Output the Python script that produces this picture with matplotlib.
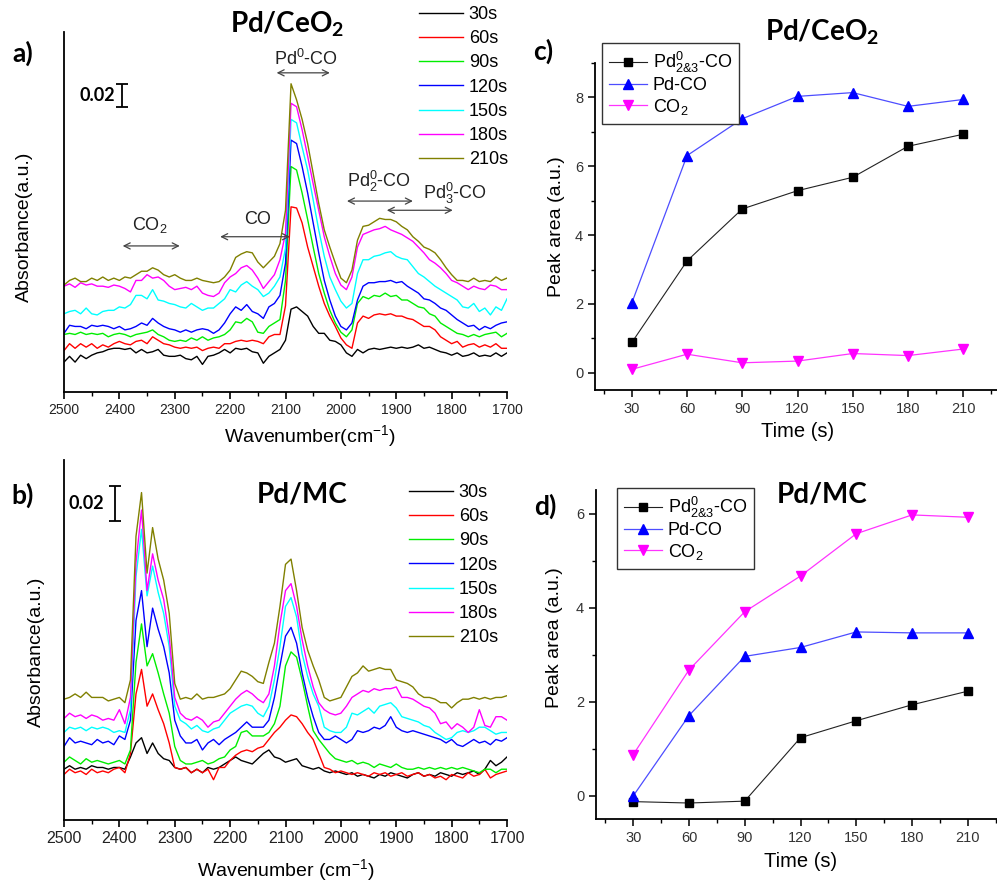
import numpy as np
import matplotlib
matplotlib.use("Agg")
from matplotlib import pyplot as plt
from matplotlib.ticker import MultipleLocator

plt.rcParams["font.family"] = ["Liberation Sans", "DejaVu Sans"]
plt.rcParams["mathtext.fontset"] = "custom"
plt.rcParams["mathtext.rm"] = "Liberation Sans"
plt.rcParams["mathtext.it"] = "Liberation Sans:italic"
plt.rcParams["mathtext.bf"] = "Lato:bold"

W, H = 997, 884

# DRIFTS spectra, 2500-1700 cm-1 in 10 cm-1 steps, absorbance in mAbs
wavenumber = np.arange(2500, 1699, -10)

ceo2_30s = [26, 31, 26, 32, 29, 32, 34, 35, 37, 38,
            38, 37, 38, 34, 37, 34, 35, 37, 32, 31,
            31, 32, 29, 28, 31, 24, 31, 32, 34, 37,
            34, 38, 37, 38, 35, 34, 25, 31, 34, 37,
            45, 72, 74, 70, 66, 57, 51, 51, 45, 44,
            41, 34, 31, 37, 34, 37, 38, 37, 38, 39,
            38, 39, 38, 39, 41, 38, 39, 37, 35, 34,
            32, 34, 31, 32, 34, 31, 32, 31, 34, 31,
            34]
ceo2_60s = [36, 42, 38, 42, 39, 42, 38, 41, 39, 42,
            44, 42, 41, 44, 45, 42, 48, 45, 42, 41,
            39, 38, 39, 38, 39, 36, 38, 39, 38, 42,
            42, 44, 45, 44, 45, 44, 42, 48, 50, 50,
            75, 161, 160, 147, 126, 109, 92, 77, 66, 57,
            47, 41, 38, 60, 66, 64, 67, 68, 67, 68,
            66, 66, 64, 63, 60, 57, 57, 54, 48, 45,
            42, 44, 39, 41, 42, 39, 41, 39, 42, 38,
            38]
ceo2_90s = [50, 51, 50, 52, 50, 51, 50, 51, 48, 50,
            51, 50, 48, 50, 51, 52, 54, 50, 48, 45,
            44, 45, 44, 47, 45, 48, 45, 47, 48, 50,
            54, 61, 60, 64, 61, 52, 51, 57, 60, 63,
            97, 196, 193, 173, 150, 126, 103, 86, 71, 60,
            52, 48, 54, 77, 83, 81, 84, 83, 86, 83,
            84, 80, 80, 77, 74, 73, 68, 66, 60, 57,
            54, 51, 50, 48, 50, 48, 50, 51, 52, 48,
            51]
ceo2_120s = [51, 58, 57, 57, 55, 58, 57, 58, 57, 55,
             57, 54, 55, 57, 60, 58, 64, 60, 57, 55,
             54, 52, 54, 52, 54, 55, 54, 51, 54, 60,
             68, 74, 71, 76, 70, 68, 64, 74, 77, 84,
             112, 219, 216, 196, 173, 147, 121, 97, 80, 66,
             57, 54, 60, 80, 92, 95, 95, 96, 96, 97,
             95, 96, 92, 89, 86, 81, 80, 77, 73, 71,
             67, 63, 60, 57, 58, 54, 57, 55, 58, 60,
             61]
ceo2_150s = [68, 70, 71, 68, 73, 68, 67, 70, 71, 71,
             74, 73, 76, 84, 84, 81, 89, 80, 79, 77,
             76, 74, 73, 77, 74, 71, 73, 73, 77, 81,
             89, 87, 93, 96, 92, 89, 83, 86, 92, 100,
             125, 237, 234, 213, 193, 167, 141, 118, 100, 89,
             79, 73, 77, 103, 115, 115, 118, 119, 121, 122,
             118, 116, 115, 109, 103, 100, 96, 92, 89, 86,
             83, 80, 74, 73, 77, 70, 73, 67, 74, 71,
             81]
ceo2_180s = [92, 94, 91, 95, 93, 94, 92, 92, 91, 93,
             92, 90, 87, 97, 97, 102, 99, 100, 97, 92,
             89, 90, 91, 89, 92, 86, 84, 83, 86, 95,
             100, 103, 108, 110, 106, 99, 90, 96, 102, 115,
             138, 251, 248, 228, 205, 181, 158, 135, 118, 103,
             93, 89, 100, 126, 137, 139, 141, 142, 144, 141,
             139, 137, 134, 131, 126, 121, 115, 112, 108, 103,
             97, 95, 92, 89, 92, 90, 89, 93, 92, 89,
             89]
ceo2_210s = [93, 97, 99, 96, 96, 99, 97, 100, 97, 99,
             97, 100, 99, 102, 105, 105, 108, 106, 102, 100,
             102, 99, 97, 97, 99, 97, 96, 95, 96, 100,
             106, 117, 120, 122, 121, 113, 108, 113, 118, 129,
             158, 268, 254, 237, 216, 190, 164, 141, 126, 112,
             99, 95, 106, 132, 144, 145, 148, 151, 150, 150,
             148, 144, 141, 135, 131, 126, 124, 121, 115, 108,
             102, 97, 97, 96, 99, 96, 97, 96, 100, 97,
             99]

mc_30s = [29, 31, 29, 30, 29, 31, 30, 30, 29, 30,
          30, 29, 36, 44, 47, 38, 44, 38, 35, 34,
          30, 29, 30, 27, 29, 27, 30, 29, 30, 32,
          34, 36, 34, 33, 32, 35, 38, 40, 36, 35,
          33, 34, 35, 31, 30, 29, 30, 28, 27, 28,
          27, 26, 27, 25, 26, 25, 24, 26, 25, 27,
          26, 25, 24, 26, 27, 25, 26, 25, 27, 26,
          25, 27, 26, 27, 28, 26, 29, 34, 31, 33,
          36]
mc_60s = [26, 29, 27, 28, 26, 29, 27, 28, 27, 29,
          30, 27, 38, 72, 86, 65, 72, 63, 55, 44,
          30, 29, 30, 27, 29, 27, 29, 23, 30, 30,
          34, 37, 39, 40, 39, 41, 42, 46, 50, 53,
          57, 60, 59, 55, 50, 46, 38, 30, 29, 27,
          28, 27, 26, 27, 26, 25, 27, 26, 27, 25,
          26, 27, 25, 26, 27, 25, 26, 24, 25, 23,
          26, 25, 24, 27, 25, 26, 29, 24, 26, 27,
          28]
mc_90s = [33, 36, 34, 32, 35, 33, 34, 33, 32, 33,
          34, 32, 40, 90, 112, 88, 95, 84, 72, 61,
          42, 34, 32, 32, 33, 34, 32, 33, 35, 36,
          40, 42, 50, 51, 48, 48, 48, 50, 55, 65,
          88, 96, 93, 80, 65, 51, 46, 42, 38, 35,
          34, 33, 34, 32, 33, 32, 30, 32, 31, 30,
          32, 30, 29, 29, 30, 29, 30, 29, 30, 29,
          30, 29, 30, 29, 28, 27, 29, 29, 27, 29,
          29]
mc_120s = [42, 47, 44, 45, 44, 43, 46, 44, 45, 43,
           48, 46, 57, 114, 131, 99, 121, 109, 99, 84,
           57, 48, 44, 44, 46, 40, 44, 46, 43, 46,
           48, 50, 53, 56, 53, 53, 53, 57, 70, 88,
           105, 110, 101, 84, 70, 59, 50, 46, 46, 48,
           46, 44, 46, 51, 50, 51, 53, 52, 54, 59,
           53, 51, 50, 51, 50, 49, 48, 47, 46, 44,
           46, 43, 42, 44, 46, 44, 45, 43, 46, 45,
           47]
mc_150s = [50, 53, 52, 53, 51, 53, 52, 53, 52, 50,
           51, 50, 63, 139, 166, 128, 145, 130, 118, 99,
           65, 57, 55, 52, 54, 51, 50, 52, 53, 57,
           61, 63, 65, 66, 65, 61, 59, 65, 80, 99,
           122, 127, 116, 95, 82, 72, 65, 53, 51, 50,
           50, 53, 61, 60, 62, 64, 61, 65, 66, 67,
           64, 59, 58, 57, 56, 54, 53, 50, 48, 46,
           47, 50, 51, 50, 51, 53, 53, 51, 49, 50,
           50]
mc_180s = [58, 61, 59, 60, 58, 60, 59, 57, 58, 57,
           63, 55, 70, 147, 177, 131, 152, 137, 126, 105,
           70, 61, 58, 57, 59, 57, 53, 56, 57, 61,
           65, 69, 72, 74, 72, 69, 67, 72, 88, 112,
           131, 135, 122, 103, 88, 76, 67, 63, 61, 60,
           61, 65, 70, 72, 74, 73, 75, 74, 75, 75,
           76, 70, 70, 69, 67, 65, 64, 61, 55, 56,
           52, 55, 53, 50, 53, 63, 54, 53, 59, 59,
           57]
mc_210s = [69, 70, 72, 70, 73, 70, 70, 70, 68, 69,
           70, 67, 80, 162, 187, 141, 167, 149, 137, 118,
           78, 69, 70, 69, 72, 69, 70, 70, 71, 72,
           75, 80, 85, 84, 82, 79, 78, 90, 101, 122,
           146, 149, 131, 110, 97, 88, 80, 70, 68, 69,
           70, 76, 82, 84, 88, 85, 86, 87, 86, 86,
           80, 79, 78, 76, 72, 70, 70, 69, 67, 67,
           64, 67, 69, 69, 70, 69, 70, 69, 70, 70,
           71]

spectra_labels = ["30s", "60s", "90s", "120s", "150s", "180s", "210s"]
spectra_colors = ["#000000", "#ff0000", "#00ee00", "#0000ff", "#00ffff", "#ff00ff", "#808000"]

# integrated peak areas vs. exposure time
times = [30, 60, 90, 120, 150, 180, 210]
ceo2_pd23_co = [0.88, 3.25, 4.76, 5.29, 5.68, 6.58, 6.93]
ceo2_pd_co = [2.03, 6.31, 7.38, 8.03, 8.14, 7.74, 7.94]
ceo2_co2 = [0.10, 0.54, 0.29, 0.34, 0.56, 0.50, 0.69]
mc_pd23_co = [-0.13, -0.16, -0.12, 1.23, 1.59, 1.93, 2.22]
mc_pd_co = [-0.01, 1.70, 2.96, 3.15, 3.48, 3.46, 3.46]
mc_co2 = [0.87, 2.67, 3.91, 4.67, 5.57, 5.97, 5.92]

SCALE_BAR = 0.02


def box(left, top, right, bottom):
    return [left / W, 1 - bottom / H, (right - left) / W, (bottom - top) / H]


def clean_spines(ax):
    ax.spines["top"].set_visible(False)
    ax.spines["right"].set_visible(False)
    for s in ("left", "bottom"):
        ax.spines[s].set_linewidth(1.3)


def spectra_panel(ax, curves, ytop, tick_size, legend_at, bar_x, bar_y, bar_label_at):
    for values, color, label in zip(curves, spectra_colors, spectra_labels):
        ax.plot(wavenumber, np.array(values) / 1000, color=color, lw=1.0, label=label)
    ax.set_xlim(2500, 1700)
    ax.set_ylim(0, ytop)
    ax.xaxis.set_major_locator(MultipleLocator(100))
    ax.xaxis.set_minor_locator(MultipleLocator(50))
    ax.set_yticks([])
    clean_spines(ax)
    ax.tick_params(axis="x", which="major", direction="out", length=5, width=1.2,
                   labelsize=tick_size, labelcolor="#222222", pad=3)
    ax.tick_params(axis="x", which="minor", direction="out", length=3, width=1.0)
    ax.legend(loc="upper left", bbox_to_anchor=(legend_at[0] / W, 1 - legend_at[1] / H),
              bbox_transform=ax.figure.transFigure, frameon=False, fontsize=13,
              handlelength=2.45, handletextpad=0.3, labelspacing=0.4,
              borderpad=0, borderaxespad=0)
    # 0.02 absorbance scale bar
    ax.errorbar([bar_x], [bar_y], yerr=SCALE_BAR / 2, color="k", lw=1.3,
                capsize=4, capthick=1.3)
    ax.text(bar_label_at[0], bar_label_at[1], "0.02", fontsize=13, fontweight="bold",
            family="Lato", ha="center", va="center")


def area_panel(ax, pd23, pdco, co2, ylim, legend_at):
    ax.plot(times, pd23, color="#222222", lw=0.8, marker="s", ms=5.5,
            mfc="k", mec="k", label="Pd$^0_{2&3}$-CO")
    ax.plot(times, pdco, color="#4d4dff", lw=0.9, marker="^", ms=7,
            mfc="#0000ff", mec="#0000ff", label="Pd-CO")
    ax.plot(times, co2, color="#ff33ff", lw=0.9, marker="v", ms=7,
            mfc="#ff00ff", mec="#ff00ff", label="CO$_2$")
    ax.set_xlim(10, 230)
    ax.set_ylim(*ylim)
    ax.set_xticks(times)
    ax.xaxis.set_minor_locator(MultipleLocator(15))
    ax.yaxis.set_major_locator(MultipleLocator(2))
    ax.yaxis.set_minor_locator(MultipleLocator(1))
    clean_spines(ax)
    ax.tick_params(which="major", direction="out", length=5, width=1.1,
                   labelsize=10.5, labelcolor="#333333")
    ax.tick_params(which="minor", direction="out", length=3, width=1.0)
    ax.set_xlabel("Time (s)", fontsize=14.5)
    ax.set_ylabel("Peak area (a.u.)", fontsize=14)
    leg = ax.legend(loc="upper left", bbox_to_anchor=(legend_at[0] / W, 1 - legend_at[1] / H),
                    bbox_transform=ax.figure.transFigure, fancybox=False, edgecolor="#333333",
                    fontsize=13, handlelength=2.1, handletextpad=0.3, borderpad=0.4,
                    labelspacing=0.12, borderaxespad=0, framealpha=1)
    leg.get_frame().set_linewidth(1.0)


fig = plt.figure(figsize=(W / 100, H / 100), dpi=100)

ax_a = fig.add_axes(box(64, 32, 507, 392))
ax_b = fig.add_axes(box(64, 460, 507, 820))
ax_c = fig.add_axes(box(595, 63, 1000, 390))
ax_d = fig.add_axes(box(596, 490, 1005, 819))

# a) Pd/CeO2 spectra
spectra_panel(ax_a, [ceo2_30s, ceo2_60s, ceo2_90s, ceo2_120s, ceo2_150s, ceo2_180s, ceo2_210s],
              0.313, 10, (419, 6), 2395, 0.258, (2439, 0.258))
ax_a.set_xlabel("Wavenumber(cm$^{-1}$)", fontsize=14)
ax_a.set_ylabel("Absorbance(a.u.)", fontsize=14)
ax_a.xaxis.set_label_coords(0.555, -0.086)
ax_a.yaxis.set_label_coords(-0.070, 0.458)

arrow = dict(arrowstyle="<->", color="#444444", lw=0.9, shrinkA=0, shrinkB=0, mutation_scale=11)
bands = [
    ("Pd$^0$-CO", 2063, 0.290, 2116, 2020, 0.2775),
    ("Pd$^0_2$-CO", 1931, 0.183, 1989, 1870, 0.166),
    ("Pd$^0_3$-CO", 1794, 0.173, 1917, 1798, 0.158),
    ("CO", 2150, 0.150, 2218, 2092, 0.135),
    ("CO$_2$", 2345, 0.145, 2394, 2291, 0.127),
]
for label, tx, ty, x0, x1, ay in bands:
    ax_a.text(tx, ty, label, fontsize=13, ha="center", va="center", color="#222222")
    ax_a.annotate("", xy=(x1, ay), xytext=(x0, ay), arrowprops=arrow)

# b) Pd/MC spectra
spectra_panel(ax_b, [mc_30s, mc_60s, mc_90s, mc_120s, mc_150s, mc_180s, mc_210s],
              0.2056, 11.5, (409, 484), 2408, 0.1807, (2460, 0.181))
ax_b.set_xlabel("Wavenumber (cm$^{-1}$)", fontsize=14)
ax_b.set_ylabel("Absorbance(a.u.)", fontsize=14)
ax_b.xaxis.set_label_coords(0.501, -0.102)
ax_b.yaxis.set_label_coords(-0.043, 0.467)

# c) and d) peak areas
area_panel(ax_c, ceo2_pd23_co, ceo2_pd_co, ceo2_co2, (-0.5, 9), (602, 43))
ax_c.xaxis.set_label_coords(0.499, -0.098)
ax_c.yaxis.set_label_coords(-0.074, 0.5)

area_panel(ax_d, mc_pd23_co, mc_pd_co, mc_co2, (-0.5, 6.5), (617, 488))
ax_d.xaxis.set_label_coords(0.499, -0.100)
ax_d.yaxis.set_label_coords(-0.081, 0.55)

title_kw = dict(fontsize=20, fontweight="bold", family="Lato", ha="center", va="center")
fig.text(287 / W, 1 - 24 / H, "Pd/CeO$_\\mathbf{2}$", **title_kw)
fig.text(302 / W, 1 - 494 / H, "Pd/MC", **title_kw)
fig.text(822 / W, 1 - 32 / H, "Pd/CeO$_\\mathbf{2}$", **title_kw)
fig.text(822 / W, 1 - 494 / H, "Pd/MC", **title_kw)

tag_kw = dict(fontsize=19, fontweight="bold", family="Lato", ha="center", va="center")
fig.text(23 / W, 1 - 53 / H, "a)", **tag_kw)
fig.text(23 / W, 1 - 495 / H, "b)", **tag_kw)
fig.text(543 / W, 1 - 51 / H, "c)", **tag_kw)
fig.text(545 / W, 1 - 506 / H, "d)", **tag_kw)

fig.savefig("out.png", dpi=100)
